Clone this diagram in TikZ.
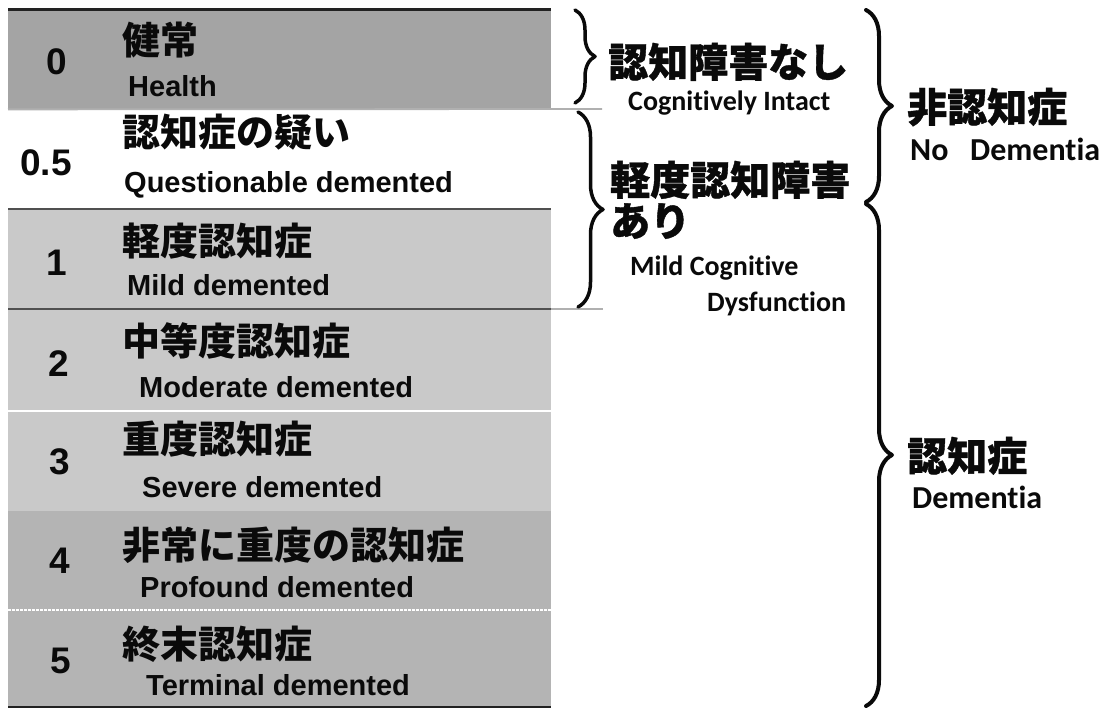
\documentclass[tikz,border=0pt]{standalone}
\usepackage{fontspec}
\setmainfont{Liberation Sans}
\newfontfamily\jp{Noto Sans CJK JP}
\newfontfamily\jph{Noto Sans CJK JP}[BoldFeatures={FakeBold=1}]
\newfontfamily\calb{Carlito}[Ligatures={NoCommon,NoRare,NoDiscretionary}]
\usetikzlibrary{decorations.pathreplacing}
\definecolor{rowA}{HTML}{A4A4A4}
\definecolor{rowB}{HTML}{C9C9C9}
\definecolor{rowC}{HTML}{B4B4B4}
\definecolor{darkline}{HTML}{222222}
\definecolor{midline}{HTML}{505050}
\definecolor{lightline}{HTML}{B0B0B0}
\definecolor{ink}{HTML}{0A0A0A}
\tikzset{
  x=1pt, y=-1pt,
  rowbox/.style={rectangle, draw=none, inner sep=0pt, minimum width=543pt, minimum height=#1, anchor=north west},
  jpt/.style={anchor=base west, inner sep=0pt, text=ink, font=\jp\bfseries\fontsize{38}{40}\selectfont},
  ent/.style={anchor=base west, inner sep=0pt, text=ink, font=\bfseries\fontsize{29}{32}\selectfont},
  numt/.style={anchor=center, inner sep=0pt, text=ink, font=\bfseries\fontsize{37}{40}\selectfont},
  jpr/.style={anchor=base west, inner sep=0pt, text=ink, font=\jph\bfseries\fontsize{40}{42}\selectfont},
  ens/.style={anchor=base west, inner sep=0pt, text=ink, font=\calb\bfseries\fontsize{28}{30}\selectfont},
  enl/.style={anchor=base west, inner sep=0pt, text=ink, font=\calb\bfseries\fontsize{32}{34}\selectfont},
  curly/.style={draw=ink, line width=#1, decorate, line cap=round, line join=round},
}
\begin{document}
\begin{tikzpicture}
\useasboundingbox (0,0) rectangle (1115,708);
% rows
\node[rowbox=99pt,  fill=rowA]  (r0)  at (8,10)  {};
\node[rowbox=100pt, fill=white] (r05) at (8,109) {};
\node[rowbox=100pt, fill=rowB]  (r1)  at (8,209) {};
\node[rowbox=102pt, fill=rowB]  (r2)  at (8,309) {};
\node[rowbox=100pt, fill=rowB]  (r3)  at (8,411) {};
\node[rowbox=99pt,  fill=rowC]  (r4)  at (8,511) {};
\node[rowbox=97pt,  fill=rowC]  (r5)  at (8,610) {};
% separators
\coordinate (e0) at (602,109);
\coordinate (e1) at (603,309);
\draw[darkline, line width=3pt] (r0.north west) -- (r0.north east);
\draw[lightline, line width=1.8pt] (r0.south west) -- (e0);
\draw[midline, line width=1.8pt] (r1.north west) -- (r1.north east);
\draw[midline, line width=1.8pt] (r2.north west) -- (r2.north east);
\draw[lightline, line width=1.8pt] (r2.north east) -- (e1);
\draw[white, line width=1.4pt] (r3.north west) -- (r3.north east);
\draw[white, line width=1.4pt, dash pattern=on 3pt off 1pt] (r5.north west) -- (r5.north east);
\draw[darkline, line width=3pt] (r5.south west) -- (r5.south east);
% row texts
\node[numt] (n0)  at (57,62)  {0};
\node[numt] (n05) at (46,163) {0.5};
\node[numt] (n1)  at (57,263) {1};
\node[numt] (n2)  at (59,364) {2};
\node[numt] (n3)  at (60,462) {3};
\node[numt] (n4)  at (60,561) {4};
\node[numt] (n5)  at (61,661) {5};
\node[jpt] (j0)  at (122,54.5)  {健常};
\node[jpt] (j05) at (122,146.5) {認知症の疑い};
\node[jpt] (j1)  at (122,255.5) {軽度認知症};
\node[jpt] (j2)  at (122,355.5) {中等度認知症};
\node[jpt] (j3)  at (122,453.5) {重度認知症};
\node[jpt] (j4)  at (122,559.5) {非常に重度の認知症};
\node[jpt] (j5)  at (122,658.5) {終末認知症};
\node[ent] (t0)  at (128,97)  {Health};
\node[ent] (t05) at (124,193) {Questionable demented};
\node[ent] (t1)  at (127,295) {Mild demented};
\node[ent] (t2)  at (139,397) {Moderate demented};
\node[ent] (t3)  at (142,497) {Severe demented};
\node[ent] (t4)  at (140,597) {Profound demented};
\node[ent] (t5)  at (146,695) {Terminal demented};
% right labels
\node[jpr] (ci)   at (608,77)  {認知障害なし};
\node[ens] (cie)  at (628,111) {Cognitively Intact};
\node[jpr] (mcd)  at (610,195) {軽度認知障害};
\node[jpr] (mcd2) at (610,236) {あり};
\node[ens] (mcde) at (630,276) {Mild Cognitive};
\node[ens] (mcdf) at (707,311) {Dysfunction};
\node[jpr] (nd)   at (907,122) {非認知症};
\node[enl] (nde)  at (910,161) {No\ \ \ Dementia};
\node[jpr] (dm)   at (907,471) {認知症};
\node[enl] (dme)  at (912,508) {Dementia};
% braces
\coordinate (b1a) at (575,10);
\coordinate (b1b) at (575,103);
\coordinate (b2a) at (578,112);
\coordinate (b2b) at (578,307);
\coordinate (b3a) at (866,10);
\coordinate (b3b) at (866,202);
\coordinate (b4a) at (866,204);
\coordinate (b4b) at (866,706);
\draw[curly=3.5pt, decoration={brace, amplitude=20pt}] (b1a) -- (b1b);
\draw[curly=3.5pt, decoration={brace, amplitude=25pt}] (b2a) -- (b2b);
\draw[curly=4pt, decoration={brace, amplitude=26pt}] (b3a) -- (b3b);
\draw[curly=4pt, decoration={brace, amplitude=26pt}] (b4a) -- (b4b);
\end{tikzpicture}
\end{document}
